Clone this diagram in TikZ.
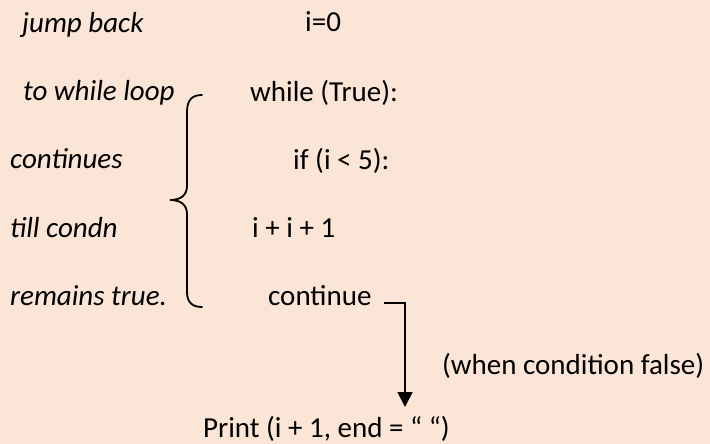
\documentclass[tikz,border=0pt]{standalone}
\usepackage{fontspec}
\setmainfont{Carlito}
\usetikzlibrary{arrows.meta}
\definecolor{peach}{HTML}{FBE5D6}
\begin{document}
\begin{tikzpicture}[x=1pt,y=-1pt,
  txt/.style={anchor=base west,inner sep=0pt,font=\fontsize{29}{34}\selectfont},
  note/.style={txt,font=\fontsize{29}{34}\selectfont\itshape},
  wire/.style={line width=1.8pt,black}]
  \fill[peach] (0,0) rectangle (710,444);
  \useasboundingbox (0,0) rectangle (710,444);

  % comments on the left
  \node[note] (n1) at (22,33)  {jump back};
  \node[note] (n2) at (23,101) {to while loop};
  \node[note] (n3) at (10,168) {continues};
  \node[note] (n4) at (10,237) {till condn};
  \node[note] (n5) at (10,305) {remains true.};

  % code lines
  \node[txt] (c0) at (305,32)  {i=0};
  \node[txt] (c1) at (250,102) {while (True):};
  \node[txt] (c2) at (293,169) {if (i < 5):};
  \node[txt] (c3) at (252,237) {i + i + 1};
  \node[txt] (cont) at (268,305) {continue};
  \node[txt] (pr) at (203,437) {Print (i + 1, end = “ “)};
  \node[txt] (why) at (442,374) {(when condition false)};

  % curly brace spanning the loop body
  \draw[wire,line cap=round]
    (202,95) .. controls (192,95) and (187,100) .. (187,112)
    -- (187,186) .. controls (187,195) and (181,200) .. (170,200)
    .. controls (181,200) and (187,205) .. (187,214)
    -- (187,292) .. controls (187,302) and (192,307) .. (202,307);

  % exit path out of the loop
  \coordinate (tip) at (405,407);
  \draw[wire,-{Triangle[width=15pt,length=15pt]}]
    ([xshift=12pt]cont.mid east) -| (tip);
\end{tikzpicture}
\end{document}
